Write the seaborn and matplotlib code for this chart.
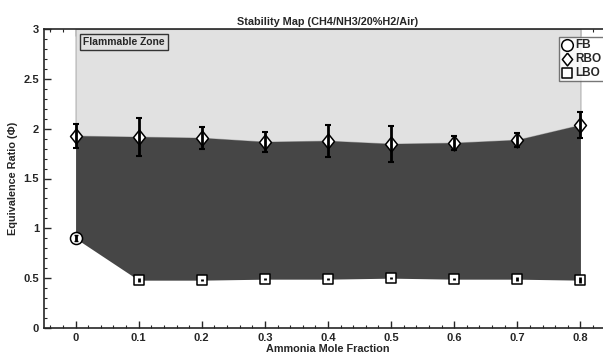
import numpy as np
import pandas as pd
import seaborn as sns
import matplotlib.pyplot as plt
from matplotlib.ticker import MultipleLocator

# Data
ammonia = [0.0, 0.1, 0.2, 0.3, 0.4, 0.5, 0.6, 0.7, 0.8]
rbo_phi = [1.93, 1.92, 1.91, 1.87, 1.88, 1.85, 1.86, 1.89, 2.04]
rbo_err = [0.12, 0.19, 0.11, 0.10, 0.16, 0.18, 0.07, 0.07, 0.13]

lbo_x = [0.1, 0.2, 0.3, 0.4, 0.5, 0.6, 0.7, 0.8]
lbo_phi = [0.48, 0.48, 0.49, 0.49, 0.50, 0.49, 0.49, 0.48]
lbo_err = [0.02, 0.01, 0.01, 0.01, 0.01, 0.01, 0.02, 0.03]

fb_x = [0.0]
fb_phi = [0.90]
fb_err = [0.03]

DARK = "#464646"
LIGHT = "#e1e1e1"

DIAMOND = [(0, 1), (0.8, 0), (0, -1), (-0.8, 0), (0, 1)]


def main():
    sns.set_style("ticks")
    plt.rcParams['font.family'] = ['Liberation Sans', 'DejaVu Sans']
    plt.rcParams['font.weight'] = 'bold'

    fig = plt.figure(figsize=(6.03, 3.59), dpi=100)
    ax = fig.add_axes([44 / 603, 31 / 359, 568 / 603, 299 / 359])

    # regions
    lower = [fb_phi[0]] + lbo_phi
    ax.fill_between(ammonia, rbo_phi, 3, color=LIGHT, edgecolor="#b0b0b0", linewidth=0.8, zorder=1)
    ax.fill_between(ammonia, lower, rbo_phi, color=DARK, linewidth=0, zorder=2)

    df = pd.concat([
        pd.DataFrame({'x': fb_x, 'phi': fb_phi, 'Type': 'FB'}),
        pd.DataFrame({'x': ammonia, 'phi': rbo_phi, 'Type': 'RBO'}),
        pd.DataFrame({'x': lbo_x, 'phi': lbo_phi, 'Type': 'LBO'}),
    ])
    sizes = {'FB': 75, 'RBO': 115, 'LBO': 45}
    markers = {'FB': 'o', 'RBO': DIAMOND, 'LBO': 's'}
    for t in ['FB', 'RBO', 'LBO']:
        sub = df[df['Type'] == t]
        sns.scatterplot(data=sub, x='x', y='phi', marker=markers[t], s=sizes[t],
                        color='white', edgecolor='black', linewidth=1.1,
                        label=t, zorder=3, ax=ax)

    ax.errorbar(ammonia, rbo_phi, yerr=rbo_err, fmt='none', ecolor='black',
                elinewidth=2, capsize=2, capthick=1.5, zorder=4)
    ax.errorbar(lbo_x, lbo_phi, yerr=lbo_err, fmt='none', ecolor='black',
                elinewidth=2, capsize=0, zorder=4)
    ax.errorbar(fb_x, fb_phi, yerr=fb_err, fmt='none', ecolor='black',
                elinewidth=2, capsize=1.5, capthick=1, zorder=4)

    ax.set_xlim(-0.05, 0.85)
    ax.set_ylim(0, 3)
    ax.xaxis.set_minor_locator(MultipleLocator(0.02))
    ax.yaxis.set_minor_locator(MultipleLocator(0.1))
    ax.set_xticks(ammonia)
    ax.set_xticklabels(['0', '0.1', '0.2', '0.3', '0.4', '0.5', '0.6', '0.7', '0.8'])
    ax.set_yticks([0, 0.5, 1, 1.5, 2, 2.5, 3])
    ax.set_yticklabels(['0', '0.5', '1', '1.5', '2', '2.5', '3'])
    ax.tick_params(which='both', direction='in', top=True, right=False, labelsize=8)
    ax.tick_params(which='major', length=5, width=1)
    ax.tick_params(which='minor', length=2.5, width=0.8)
    for s in ax.spines.values():
        s.set_linewidth(1.2)

    ax.set_title("Stability Map (CH4/NH3/20%H2/Air)", fontsize=7.8, fontweight='bold', pad=3)
    ax.set_xlabel("Ammonia Mole Fraction", fontsize=7.8, fontweight='bold', labelpad=1)
    ax.set_ylabel("Equivalence Ratio (Φ)", fontsize=7.8, fontweight='bold', labelpad=4)

    ax.text(0.012, 2.92, "Flammable Zone", fontsize=7.4, fontweight='bold', va='top', ha='left',
            bbox=dict(boxstyle='square,pad=0.3', facecolor=LIGHT, edgecolor='#333333', linewidth=1),
            zorder=5)

    leg = ax.legend(loc='upper left', bbox_to_anchor=(559 / 603, 1 - 37 / 359),
                    bbox_transform=fig.transFigure, fontsize=8.5, frameon=True,
                    fancybox=False, edgecolor='#555555', handletextpad=0.3,
                    borderpad=0.2, labelspacing=0.15, handlelength=0.9,
                    borderaxespad=0)
    leg.get_frame().set_linewidth(1)
    for h, sz in zip(leg.legend_handles, [70, 85, 45]):
        h.set_sizes([sz])

    fig.savefig("out.png", dpi=100)


if __name__ == "__main__":
    main()
